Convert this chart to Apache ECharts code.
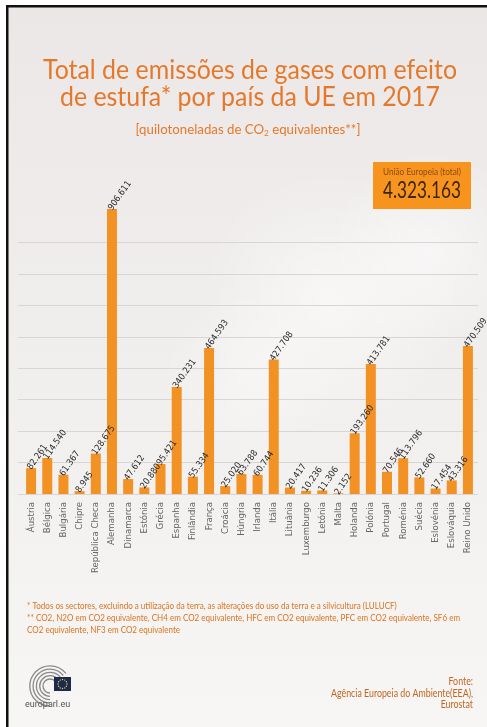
<!DOCTYPE html>
<html>
<head>
<meta charset="utf-8">
<script src="https://cdn.jsdelivr.net/npm/echarts@6/dist/echarts.min.js"></script>
<style>
  html, body { margin: 0; padding: 0; background: #fff; }
  #main { width: 487px; height: 727px; }
</style>
</head>
<body>
<div id="main"></div>
<script>
// data (quilotoneladas de CO2 equivalentes, 2017)
var countries = ['Áustria', 'Bélgica', 'Bulgária', 'Chipre', 'República Checa', 'Alemanha', 'Dinamarca',
  'Estónia', 'Grécia', 'Espanha', 'Finlândia', 'França', 'Croácia', 'Húngria', 'Irlanda', 'Itália',
  'Lituânia', 'Luxemburgo', 'Letónia', 'Malta', 'Holanda', 'Polónia', 'Portugal', 'Roménia',
  'Suécia', 'Eslovénia', 'Eslováquia', 'Reino Unido'];
var emissions = [82261, 114540, 61367, 8945, 128675, 906611, 47612,
  20880, 95421, 340231, 55334, 464593, 25020, 63788, 60744, 427708,
  20417, 10236, 11306, 2152, 193260, 413781, 70546, 113796,
  52660, 17454, 43316, 470509];
var gridMax = 800000;   // top grid line
var gridStep = 100000;
var euTotal = 4323163;

var narrow = "'Liberation Sans Narrow', 'DejaVu Sans Condensed', Lato, sans-serif";
var face = "Lato, 'Liberation Sans', sans-serif";
var orange = '#F39224';
var titleOrange = '#E5792B';

function fmt(v) {
  return String(v).replace(/\B(?=(\d{3})+(?!\d))/g, '.');
}

// squeeze text to the width it takes in the poster
var ctx = document.createElement('canvas').getContext('2d');
function fit(text, font, width) {
  ctx.font = font;
  var w = 0;
  text.split('\n').forEach(function (l) { w = Math.max(w, ctx.measureText(l).width); });
  return width / w;
}

function cloud(cx, cy, r, a) {
  return {
    type: 'circle', silent: true, z: -10, shape: { cx: cx, cy: cy, r: r },
    style: { fill: { type: 'radial', x: 0.5, y: 0.5, r: 0.5, colorStops: [
      { offset: 0, color: 'rgba(255,255,255,' + a + ')' },
      { offset: 1, color: 'rgba(255,255,255,0)' }
    ] } }
  };
}

var chart = echarts.init(document.getElementById('main'));

// bar grid: 0 at y=494, 906.611 at y=209
var barTop = 209, barBottom = 233;
var pxPerUnit = (727 - barBottom - barTop) / Math.max.apply(null, emissions);
var lineTop = (727 - barBottom) - gridMax * pxPerUnit;

// logo pieces
var stars = [];
for (var i = 0; i < 12; i++) {
  var a = i / 12 * Math.PI * 2;
  stars.push({
    type: 'circle',
    shape: { cx: 62.5 + Math.cos(a) * 4.5, cy: 684 + Math.sin(a) * 4.5, r: 0.7 },
    style: { fill: '#e8d44a' }
  });
}
var arcs = [];
for (var j = 0; j < 5; j++) {
  arcs.push({
    type: 'arc',
    shape: { cx: 50, cy: 686, r: 7 + j * 3.3, startAngle: Math.PI * 0.5, endAngle: Math.PI * 1.5 + 0.9 },
    style: { stroke: '#8a8a8a', lineWidth: 1.3, fill: null }
  });
}

var t1 = 'Total de emissões de gases com efeito';
var t2 = 'de estufa* por país da UE em 2017';
var titleFont = '27px ' + face;
var titleScale = fit(t1, titleFont, 414);
var subFont = '13px ' + face;
var subScale = fit('[quilotoneladas de CO2 equivalentes**]', subFont, 228);
var noteText = '* Todos os sectores, excluindo a utilização da terra, as alterações do uso da terra e a silvicultura (LULUCF)\n' +
  '** CO2, N2O em CO2 equivalente, CH4 em CO2 equivalente, HFC em CO2 equivalente, PFC em CO2 equivalente, SF6 em\n' +
  'CO2 equivalente, NF3 em CO2 equivalente';
var noteFont = '10px ' + face;
var noteScale = fit(noteText, noteFont, 433);
var srcText = 'Fonte:\nAgência Europeia do Ambiente(EEA),\nEurostat';
var srcFont = '10.5px ' + face;
var srcScale = fit(srcText, srcFont, 142);
var totFont = '24px ' + face;
var totScale = fit(fmt(euTotal), totFont, 78);
var boxFont = '10px ' + face;
var boxScale = fit('União Europeia (total)', boxFont, 78);

var option = {
  backgroundColor: {
    type: 'linear', x: 0, y: 0, x2: 0, y2: 1,
    colorStops: [
      { offset: 0, color: '#ebe7e6' },
      { offset: 0.45, color: '#f0eeed' },
      { offset: 1, color: '#f7f6f5' }
    ]
  },
  animation: false,
  grid: [
    { left: 23, right: 11, top: barTop, bottom: barBottom },
    { left: 18, right: 9, top: lineTop, bottom: barBottom }
  ],
  xAxis: [{
    type: 'category',
    data: countries,
    axisLine: { show: false },
    axisTick: { show: false },
    axisLabel: {
      interval: 0,
      rotate: 90,
      margin: 8,
      fontFamily: narrow,
      fontSize: 9.5,
      color: '#666'
    }
  }, {
    type: 'value', gridIndex: 1, show: false, min: 0, max: 1
  }],
  yAxis: [{
    type: 'value',
    min: 0,
    max: 'dataMax',
    show: false,
    splitLine: { show: false }
  }, {
    type: 'value',
    gridIndex: 1,
    min: 0,
    max: gridMax,
    interval: gridStep,
    axisLabel: { show: false },
    axisLine: { show: false },
    axisTick: { show: false },
    splitLine: { lineStyle: { color: '#d8d5d4', width: 1 } }
  }],
  series: [{
    type: 'bar',
    data: emissions,
    barWidth: 10,
    z: 5,
    itemStyle: { color: orange },
    label: {
      show: true,
      position: 'top',
      distance: 2,
      rotate: 55,
      align: 'left',
      verticalAlign: 'middle',
      offset: [-3, 0],
      fontFamily: narrow,
      fontSize: 9,
      color: '#2b2b2b',
      formatter: function (p) { return fmt(p.value); }
    }
  }],
  graphic: [
    // soft cloud behind the chart
    cloud(330, 300, 130, 0.55),
    cloud(430, 250, 100, 0.5),
    cloud(250, 380, 90, 0.35),
    // frame
    { type: 'rect', shape: { x: 0, y: 0, width: 487, height: 5 }, style: { fill: '#ffffff' } },
    { type: 'rect', shape: { x: 0, y: 0, width: 6, height: 727 }, style: { fill: '#ffffff' } },
    { type: 'rect', shape: { x: 6, y: 5, width: 481, height: 2.5 }, style: { fill: '#111' } },
    { type: 'rect', shape: { x: 6, y: 5, width: 2.5, height: 722 }, style: { fill: '#111' } },
    // title
    { type: 'text', x: 250, y: 57, scaleX: titleScale,
      style: { text: t1, align: 'center', verticalAlign: 'top', font: titleFont, fill: titleOrange } },
    { type: 'text', x: 250, y: 84, scaleX: titleScale,
      style: { text: t2, align: 'center', verticalAlign: 'top', font: titleFont, fill: titleOrange } },
    { type: 'text', x: 248, y: 123, scaleX: subScale,
      style: {
        text: '[quilotoneladas de CO{sub|2} equivalentes**]', align: 'center', verticalAlign: 'top',
        font: subFont, fill: titleOrange,
        rich: { sub: { fontSize: 8, fontFamily: 'Lato', fill: titleOrange, padding: [6, 0, 0, 0] } }
      } },
    // EU total box
    { type: 'rect', shape: { x: 373, y: 162, width: 98, height: 47 }, style: { fill: '#F7941D' } },
    { type: 'text', x: 422, y: 167, scaleX: boxScale,
      style: { text: 'União Europeia (total)', align: 'center', verticalAlign: 'top', font: boxFont, fill: '#8d4a12' } },
    { type: 'text', x: 422, y: 178, scaleX: totScale,
      style: { text: fmt(euTotal), align: 'center', verticalAlign: 'top', font: totFont, fill: '#3a2414' } },
    // footnotes
    { type: 'text', x: 27, y: 600, scaleX: noteScale,
      style: { text: noteText, font: noteFont, lineHeight: 12, fill: '#D9731F' } },
    // source
    { type: 'text', x: 473, y: 676, scaleX: srcScale,
      style: { text: srcText, align: 'right', font: srcFont, lineHeight: 11.5, fill: '#C2651E' } },
    // logo
    { type: 'group', children: arcs },
    { type: 'rect', shape: { x: 54, y: 677, width: 17, height: 14 }, style: { fill: '#1d2a4e' } },
    { type: 'group', children: stars },
    { type: 'text', x: 25, y: 700, style: { text: 'europarl.eu', font: '9px Roboto, sans-serif', fill: '#555' } }
  ]
};

chart.setOption(option);
</script>
</body>
</html>
